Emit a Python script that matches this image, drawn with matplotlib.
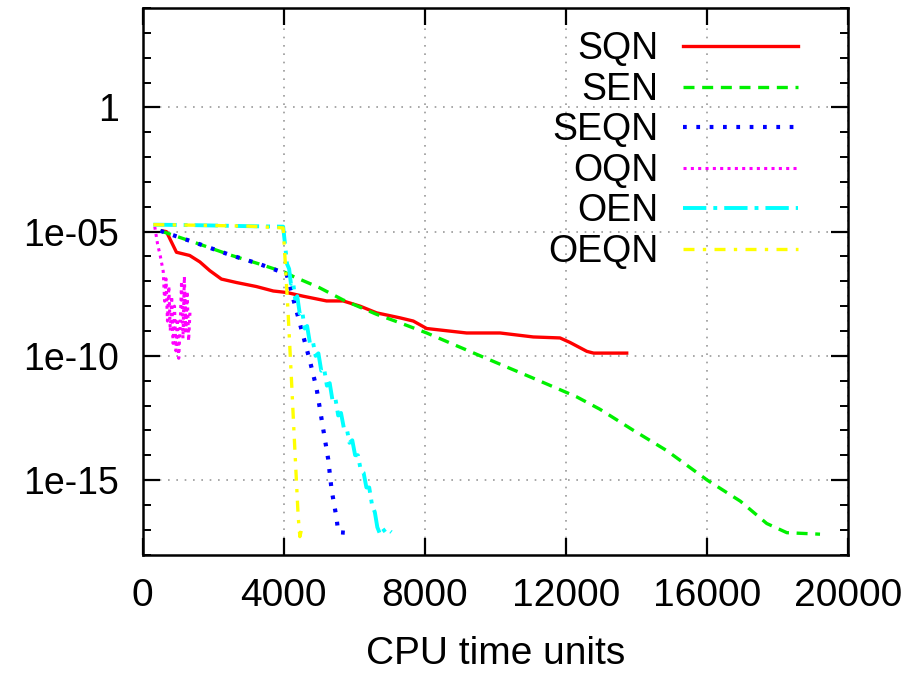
import numpy as np
import matplotlib.pyplot as plt

plt.rcParams["font.family"] = ["Liberation Sans", "DejaVu Sans"]

# values; y values are stored as log10 of the residual
sqn_x = [560, 670, 955, 1330, 1620, 1900, 2230, 2660, 3220, 3700, 4080, 4550, 5210,
         5680, 6160, 6630, 7290, 7670, 8050, 9180, 10130, 11070, 11830, 12110, 12590,
         12780, 13720]
sqn_exp = [-4.97, -5.0, -5.83, -5.96, -6.22, -6.57, -6.91, -7.05, -7.21, -7.39, -7.45,
           -7.6, -7.79, -7.79, -8.0, -8.27, -8.47, -8.6, -8.9, -9.08, -9.08, -9.24,
           -9.28, -9.46, -9.82, -9.89, -9.89]

sen_x = [500, 1500, 2500, 3300, 4030, 4260, 5000, 5680, 6630, 7290, 8050, 8990, 9650,
         11070, 12300, 12960, 13910, 14860, 16010, 16940, 17690, 18260, 19200]
sen_exp = [-4.97, -5.45, -5.95, -6.3, -6.64, -6.8, -7.25, -7.75, -8.33, -8.67, -9.08,
           -9.65, -10.05, -10.9, -11.65, -12.15, -13.0, -13.82, -15.01, -15.85, -16.75,
           -17.12, -17.18]

seqn_x = [500, 1500, 2500, 3300, 4076, 4738, 4926, 5115, 5257, 5352, 5494, 5541, 5919]
seqn_exp = [-4.97, -5.45, -5.95, -6.3, -6.7, -10.2, -11.3, -12.94, -14.16, -15.38,
            -16.53, -17.1, -17.14]

oqn_x = [340, 420, 500, 580, 620, 660, 700, 740, 780, 820, 860, 900, 940, 980, 1020,
         1060, 1100, 1140, 1180, 1220, 1260, 1300, 1340]
oqn_exp = [-4.8, -5.5, -6.0, -6.6, -7.8, -6.9, -8.6, -7.2, -9.0, -7.6, -9.5, -8.0, -9.8,
           -8.5, -10.1, -8.8, -7.0, -9.3, -6.8, -9.0, -7.4, -9.4, -8.2]

oen_x = [300, 1500, 3000, 3980, 4040, 4090, 4150, 4200, 4260, 4320, 4380, 4450, 4520,
         4590, 4660, 4740, 4820, 4900, 4980, 5060, 5140, 5220, 5300, 5380, 5460, 5540,
         5620, 5700, 5780, 5860, 5940, 6020, 6100, 6180, 6260, 6340, 6420, 6500, 6580,
         6650, 6720, 6800, 6880, 6960, 7050]
oen_exp = [-4.72, -4.74, -4.78, -4.8, -5.6, -6.3, -6.5, -7.1, -7.0, -7.7, -7.6, -8.3,
           -8.2, -8.9, -8.8, -9.5, -9.4, -10.0, -9.9, -10.6, -10.5, -11.2, -11.1, -11.8,
           -11.7, -12.4, -12.3, -12.9, -12.9, -13.5, -13.4, -14.0, -14.0, -14.6, -14.7,
           -15.3, -15.3, -16.0, -16.3, -16.9, -17.15, -16.95, -17.1, -17.0, -17.1]

oeqn_x = [300, 1500, 3000, 3980, 4030, 4122, 4217, 4311, 4406, 4454, 4500, 4550]
oeqn_exp = [-4.72, -4.74, -4.78, -4.85, -6.0, -8.3, -11.0, -13.75, -16.46, -17.28,
            -17.0, -17.1]

series = [
    ("SQN", sqn_x, sqn_exp, "#ff0000", None, 2.4),
    ("SEN", sen_x, sen_exp, "#00f000", (3.3, 2.3), 2.4),
    ("SEQN", seqn_x, seqn_exp, "#0000ff", (0.9, 2.3), 3.0),
    ("OQN", oqn_x, oqn_exp, "#ff00ff", (1.0, 1.4), 2.2),
    ("OEN", oen_x, oen_exp, "#00ffff", (6, 1.8, 1, 1.8), 2.8),
    ("OEQN", oeqn_x, oeqn_exp, "#ffff00", (3.3, 2.5, 1, 2.5), 2.4),
]

fig = plt.figure(figsize=(9.21, 6.73), dpi=100)
ax = fig.add_axes([0.155, 0.176, 0.766, 0.812])

for name, xs, ex, col, dash, lw in series:
    line, = ax.plot(xs, 10.0 ** np.array(ex), color=col, lw=lw, label=name)
    if dash is not None:
        line.set_dashes(dash)

ax.set_yscale("log")
ax.set_xlim(0, 20000)
ax.set_ylim(1e-18, 1e4)
ax.set_xticks([0, 4000, 8000, 12000, 16000, 20000])
ax.set_yticks([1e-15, 1e-10, 1e-05, 1], ["1e-15", "1e-10", "1e-05", "1"])
ax.set_yticks([10.0 ** k for k in range(-18, 5)], minor=True)
ax.yaxis.set_minor_formatter(plt.NullFormatter())
ax.tick_params(axis="both", which="major", direction="in", length=12, width=1.6,
               top=True, right=True)
ax.tick_params(axis="x", which="major", labelsize=28, pad=17)
ax.tick_params(axis="y", which="major", labelsize=27, pad=17)
ax.tick_params(axis="y", which="minor", direction="in", length=6, width=1.4,
               left=True, right=True)
ax.tick_params(axis="x", which="minor", bottom=False, top=False)
ax.grid(True, which="major", color="#999999", linestyle=(0, (1, 4)), lw=1.2)
for sp in ax.spines.values():
    sp.set_linewidth(1.8)

ax.set_xlabel("CPU time units", fontsize=28, labelpad=16)

leg = ax.legend(loc="upper right", bbox_to_anchor=(0.955, 0.992), frameon=False,
                markerfirst=False, fontsize=27, handlelength=3.05, handletextpad=0.67,
                labelspacing=0.12, borderpad=0)

fig.savefig("out.png", dpi=100)
